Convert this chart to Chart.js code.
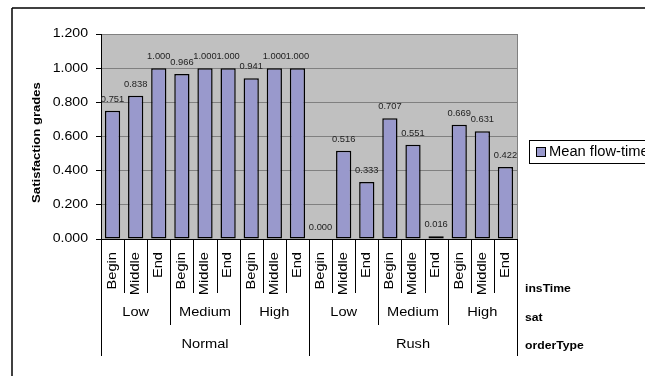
<!DOCTYPE html>
<html>
<head>
<meta charset="utf-8">
<script src="https://cdn.jsdelivr.net/npm/chart.js@4/dist/chart.umd.min.js"></script>
<style>
  html, body { margin: 0; padding: 0; background: #fff; }
  #wrap { width: 645px; height: 376px; }
</style>
</head>
<body>
<div id="wrap"><canvas id="c" width="645" height="376"></canvas></div>
<script>
// Category levels (outermost first) and the measured series
const orderTypes = ['Normal', 'Rush'];
const satLevels = ['Low', 'Medium', 'High'];
const insTimes = ['Begin', 'Middle', 'End'];
const levelNames = ['insTime', 'sat', 'orderType'];
const seriesName = 'Mean flow-time';
const yTitle = 'Satisfaction grades';
const meanFlowTime = [
  0.751, 0.838, 1.000,  0.966, 1.000, 1.000,  0.941, 1.000, 1.000,
  0.000, 0.516, 0.333,  0.707, 0.551, 0.016,  0.669, 0.631, 0.422
];

// Flat category list built from the three levels
const categories = [];
orderTypes.forEach(o => satLevels.forEach(s => insTimes.forEach(t => categories.push([o, s, t]))));

const FONT = '"Liberation Sans", Arial, sans-serif';
const BAR_FILL = '#9999cc';

// Draws text slightly widened horizontally, optionally rotated
function txt(ctx, s, x, y, size, opt = {}) {
  ctx.save();
  ctx.translate(x, y);
  if (opt.rot) ctx.rotate(opt.rot);
  ctx.scale(opt.sx || 1.2, 1);
  ctx.font = (opt.bold ? 'bold ' : '') + size + 'px ' + FONT;
  ctx.fillStyle = opt.color || '#000';
  ctx.textAlign = opt.align || 'center';
  ctx.textBaseline = 'middle';
  ctx.fillText(s, 0, 0);
  ctx.restore();
}

function line(ctx, x1, y1, x2, y2, color, w) {
  ctx.beginPath();
  ctx.moveTo(x1, y1);
  ctx.lineTo(x2, y2);
  ctx.strokeStyle = color || '#000';
  ctx.lineWidth = w || 1;
  ctx.stroke();
}

const decor = {
  id: 'decor',
  beforeDraw(chart) {
    const { ctx, chartArea: a } = chart;
    ctx.save();
    ctx.fillStyle = '#fff';
    ctx.fillRect(0, 0, chart.width, chart.height);
    // outer frame
    line(ctx, 12, 8, chart.width + 2, 8, '#000', 1.5);
    line(ctx, 12, 8, 12, chart.height + 2, '#000', 1.5);
    // plot background
    ctx.fillStyle = '#c0c0c0';
    ctx.fillRect(a.left, a.top, a.right - a.left, a.bottom - a.top);
    ctx.restore();
  },
  afterDatasetsDraw(chart) {
    const { ctx } = chart;
    const meta = chart.getDatasetMeta(0);
    meta.data.forEach((bar, i) => {
      txt(ctx, meanFlowTime[i].toFixed(3), bar.x, bar.y - 11.5, 8.5, { sx: 1.1, color: '#222' });
    });
  },
  afterDraw(chart) {
    const { ctx, chartArea: a } = chart;
    const yScale = chart.scales.y;
    const xScale = chart.scales.x;
    ctx.save();

    // plot frame (right edge) and category axis line
    const R = Math.round(a.right) + 0.5;
    const B = Math.round(a.bottom) + 0.5;
    line(ctx, R, a.top, R, a.bottom, '#808080');
    line(ctx, a.left, B, a.right, B);

    // value axis labels
    yScale.ticks.forEach(t => {
      txt(ctx, t.value.toFixed(3), 88, yScale.getPixelForValue(t.value), 12.5, { align: 'right', sx: 1.13 });
    });
    txt(ctx, yTitle, 37, (a.top + a.bottom) / 2 + 6, 11, { bold: true, rot: -Math.PI / 2, sx: 1.19 });

    // multi-level category axis
    const n = categories.length;
    const catW = (a.right - a.left) / n;
    for (let i = 0; i <= n; i++) {
      const x = Math.round(a.left + i * catW) + 0.5;
      let end = 293;
      if (i % insTimes.length === 0) end = 325;
      if (i % (insTimes.length * satLevels.length) === 0) end = 356;
      line(ctx, x, a.bottom, x, end);
    }
    categories.forEach((c, i) => {
      const cx = xScale.getPixelForValue(i);
      txt(ctx, c[2], cx, 252, 12, { rot: -Math.PI / 2, align: 'right', sx: 1.22 });
    });
    const g1 = insTimes.length;
    for (let k = 0; k < n / g1; k++) {
      const cx = a.left + (k + 0.5) * g1 * catW;
      txt(ctx, categories[k * g1][1], cx, 313, 12.5, { sx: 1.17 });
    }
    const g2 = insTimes.length * satLevels.length;
    for (let k = 0; k < n / g2; k++) {
      const cx = a.left + (k + 0.5) * g2 * catW;
      txt(ctx, categories[k * g2][0], cx, 345, 12.5, { sx: 1.17 });
    }
    // level names
    const ly = [289, 318, 346];
    levelNames.forEach((nm, i) => txt(ctx, nm, 525, ly[i], 10, { bold: true, align: 'left', sx: 1.22 }));

    // legend
    ctx.fillStyle = '#fff';
    ctx.fillRect(529.5, 140.5, 140, 23);
    ctx.strokeStyle = '#000';
    ctx.lineWidth = 1;
    ctx.strokeRect(529.5, 140.5, 140, 23);
    ctx.fillStyle = BAR_FILL;
    ctx.fillRect(536.5, 147.5, 9, 9);
    ctx.strokeRect(536.5, 147.5, 9, 9);
    txt(ctx, seriesName, 549, 152.5, 14, { align: 'left', sx: 1.05 });

    ctx.restore();
  }
};

new Chart(document.getElementById('c'), {
  type: 'bar',
  data: {
    labels: categories.map(c => c.join(' / ')),
    datasets: [{
      label: seriesName,
      data: meanFlowTime,
      backgroundColor: BAR_FILL,
      borderColor: '#000',
      borderWidth: 1.5,
      borderSkipped: false,
      categoryPercentage: 1,
      barPercentage: 0.66
    }]
  },
  options: {
    responsive: false,
    animation: false,
    devicePixelRatio: 1,
    layout: { padding: { top: 34, right: 128, bottom: 137, left: 11 } },
    plugins: { legend: { display: false }, tooltip: { enabled: false } },
    scales: {
      x: {
        ticks: { display: false },
        grid: { display: false },
        border: { display: false },
        afterFit(s) { s.height = 0; }
      },
      y: {
        min: 0, max: 1.2,
        ticks: { display: false, stepSize: 0.2 },
        grid: { color: '#808080', tickColor: '#000', tickLength: 5, drawTicks: true },
        border: { display: true, color: '#000', width: 1 },
        afterFit(s) { s.width = 90; }
      }
    }
  },
  plugins: [decor]
});
</script>
</body>
</html>
